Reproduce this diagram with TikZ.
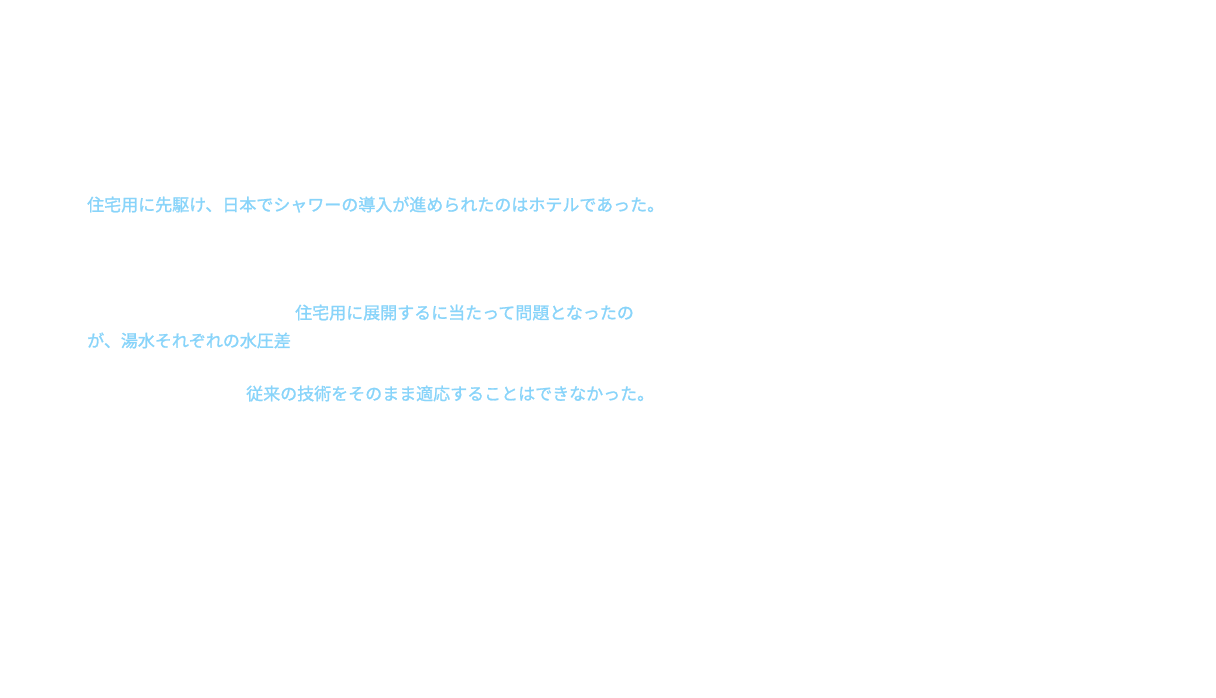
\documentclass[tikz,border=0pt]{standalone}
\usepackage{fontspec}
\newfontfamily\cjk[FakeBold=1.2]{Noto Sans CJK JP}
\definecolor{tb}{HTML}{88D4FA}
\begin{document}
\begin{tikzpicture}[x=1pt,y=-1pt,
  t/.style={anchor=base west,inner sep=0pt,text=tb,font=\cjk\fontsize{17}{20}\selectfont}]
\useasboundingbox[fill=white] (0,0) rectangle (1216,698);
\node[t] (l1) at (87,211) {住宅用に先駆け、日本でシャワーの導入が進められたのはホテルであった。};
\node[t] (l2) at (295,319) {住宅用に展開するに当たって問題となったの};
\node[t] (l3) at (87,347) {が、湯水それぞれの水圧差};
\node[t] (l4) at (246,400) {従来の技術をそのまま適応することはできなかった。};
\end{tikzpicture}
\end{document}
